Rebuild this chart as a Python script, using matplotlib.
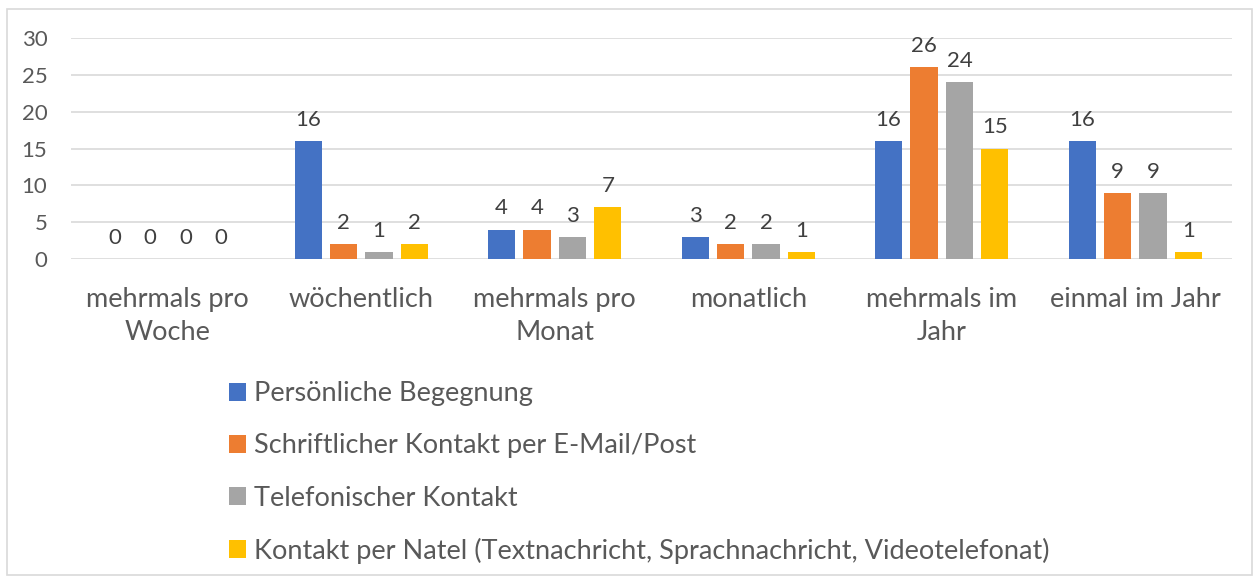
import numpy as np
import matplotlib.pyplot as plt
from matplotlib.patches import Rectangle

categories = ['mehrmals pro\nWoche', 'wöchentlich', 'mehrmals pro\nMonat',
              'monatlich', 'mehrmals im\nJahr', 'einmal im Jahr']
series_names = ['Persönliche Begegnung',
                'Schriftlicher Kontakt per E-Mail/Post',
                'Telefonischer Kontakt',
                'Kontakt per Natel (Textnachricht, Sprachnachricht, Videotelefonat)']
persoenlich = [0, 16, 4, 3, 16, 16]
schriftlich = [0, 2, 4, 2, 26, 9]
telefon = [0, 1, 3, 2, 24, 9]
natel = [0, 2, 7, 1, 15, 1]
colors = ['#4472C4', '#ED7D31', '#A5A5A5', '#FFC000']

plt.rcParams['font.family'] = ['Lato', 'DejaVu Sans']
txt = '#595959'

fig = plt.figure(figsize=(12.58, 5.80), dpi=100)
# chart border
fig.patches.append(Rectangle((7/1258, 5/580), 1245/1258, 566/580, transform=fig.transFigure,
                             fill=False, edgecolor='#D9D9D9', linewidth=1.2))
ax = fig.add_axes([71/1258, 1-259/580, 1161/1258, 221/580])

x = np.arange(len(categories))
step = 0.183
width = 0.14
data = [persoenlich, schriftlich, telefon, natel]
for i, vals in enumerate(data):
    pos = x + (i - 1.5) * step
    ax.bar(pos, vals, width, color=colors[i], label=series_names[i], zorder=3)
    for p, v in zip(pos, vals):
        ax.text(p, v + 1.5, str(v), ha='center', va='bottom', fontsize=16, color='#404040')

ax.set_ylim(0, 30)
ax.set_xlim(-0.5, len(categories) - 0.5)
ax.set_yticks(range(0, 31, 5))
ax.yaxis.grid(True, color='#D9D9D9', linewidth=1.2, zorder=0)
ax.set_axisbelow(True)
for s in ax.spines.values():
    s.set_visible(False)
ax.tick_params(axis='y', length=0, labelsize=16, labelcolor=txt, pad=17)
ax.tick_params(axis='x', length=0, labelsize=19.5, labelcolor=txt, pad=20)
ax.set_xticks(x)
ax.set_xticklabels(categories, linespacing=1.4, va='top')

leg = fig.legend(loc='upper left', bbox_to_anchor=(205/1258, 1-357/580), frameon=False,
                 fontsize=19.5, labelcolor=txt, handlelength=0.62, handleheight=0.62,
                 handletextpad=0.3, labelspacing=1.0, ncol=1)

fig.savefig('out.png', dpi=100, facecolor='white')
